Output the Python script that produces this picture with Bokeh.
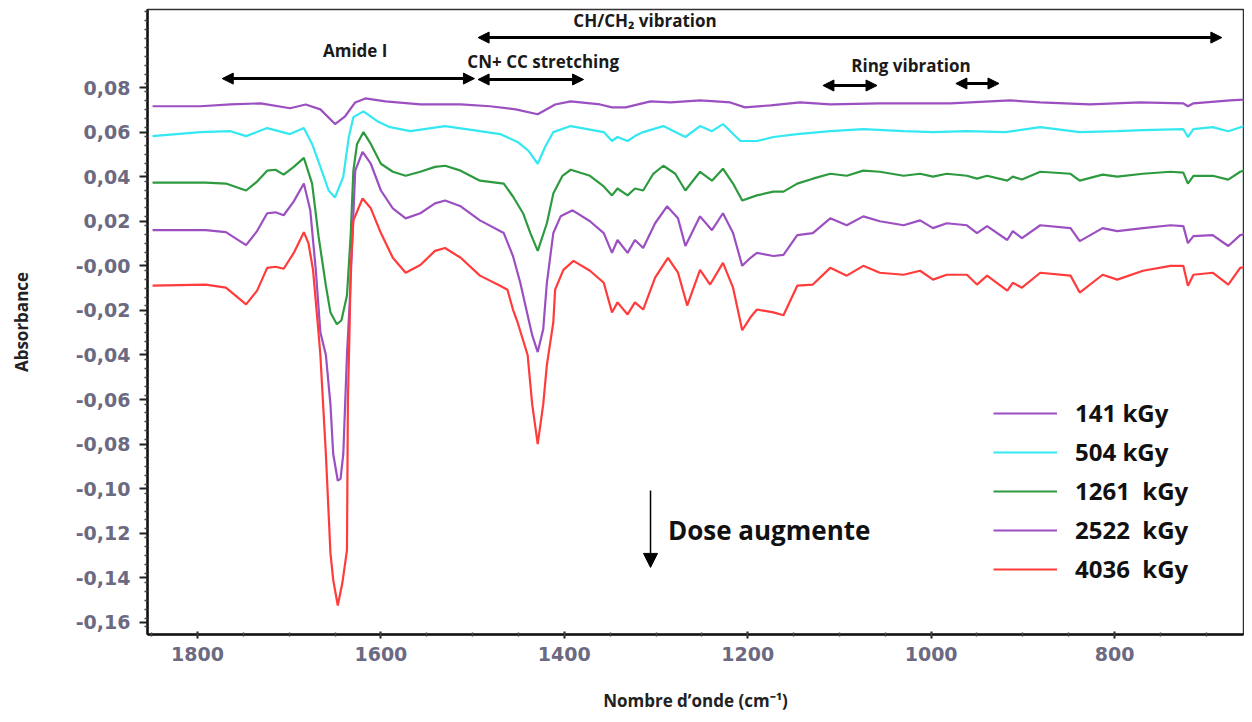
from bokeh.plotting import figure
from bokeh.models import (Range1d, FixedTicker, CustomJSTickFormatter, Arrow, NormalHead,
                          Legend, LegendItem)
from bokeh.core.properties import value
from bokeh.embed import file_html
from bokeh.resources import INLINE
import numpy as np

# ---------------- data ----------------
WN_141 = [1849, 1797, 1764, 1731, 1699, 1682, 1666, 1650, 1639, 1628, 1617, 1595, 1557, 1513, 1481,
          1453, 1429, 1410, 1393, 1361, 1348, 1333, 1306, 1284, 1268, 1252, 1235, 1219, 1203, 1175,
          1143, 1110, 1056, 979, 914, 881, 827, 772, 725, 720, 714, 674, 652]
ABS_141 = [0.0716, 0.0716, 0.0724, 0.0729, 0.0707, 0.0724, 0.0702, 0.0636, 0.0671, 0.0733, 0.0751,
           0.0738, 0.0724, 0.0724, 0.0716, 0.0702, 0.0680, 0.0724, 0.0738, 0.0724, 0.0711, 0.0711,
           0.0738, 0.0733, 0.0738, 0.0742, 0.0738, 0.0733, 0.0711, 0.0720, 0.0733, 0.0724, 0.0729,
           0.0729, 0.0742, 0.0733, 0.0724, 0.0733, 0.0729, 0.0716, 0.0729, 0.0742, 0.0747]

WN_504 = [1849, 1797, 1764, 1747, 1724, 1699, 1684, 1675, 1666, 1657, 1650, 1641, 1635, 1630, 1619,
          1604, 1590, 1568, 1530, 1492, 1470, 1451, 1439, 1429, 1421, 1412, 1393, 1357, 1348, 1342,
          1331, 1323, 1314, 1292, 1268, 1252, 1239, 1227, 1208, 1190, 1172, 1146, 1110, 1074, 1030,
          998, 961, 919, 881, 838, 797, 769, 725, 720, 714, 693, 676, 652]
ABS_504 = [0.0582, 0.0600, 0.0604, 0.0582, 0.0618, 0.0591, 0.0618, 0.0547, 0.0444, 0.0338, 0.0307,
           0.0400, 0.0578, 0.0667, 0.0693, 0.0649, 0.0622, 0.0604, 0.0627, 0.0604, 0.0591, 0.0556,
           0.0516, 0.0458, 0.0533, 0.0600, 0.0627, 0.0600, 0.0560, 0.0578, 0.0560, 0.0582, 0.0600,
           0.0627, 0.0578, 0.0627, 0.0604, 0.0636, 0.0560, 0.0560, 0.0578, 0.0591, 0.0604, 0.0613,
           0.0604, 0.0600, 0.0604, 0.0600, 0.0622, 0.0600, 0.0604, 0.0609, 0.0613, 0.0578, 0.0613,
           0.0622, 0.0604, 0.0636]

WN_1261 = [1849, 1791, 1769, 1747, 1735, 1724, 1715, 1706, 1695, 1684, 1675, 1668, 1660, 1655, 1648,
           1643, 1637, 1633, 1630, 1626, 1619, 1611, 1600, 1587, 1573, 1557, 1541, 1530, 1513, 1492,
           1466, 1456, 1445, 1437, 1429, 1419, 1412, 1402, 1393, 1372, 1357, 1348, 1342, 1331, 1323,
           1314, 1303, 1292, 1279, 1268, 1252, 1239, 1227, 1216, 1206, 1190, 1172, 1161, 1146, 1129,
           1110, 1092, 1074, 1056, 1030, 1012, 998, 983, 961, 950, 939, 917, 911, 901, 881, 848, 838,
           813, 797, 769, 739, 725, 720, 714, 693, 676, 663, 652]
ABS_1261 = [0.0373, 0.0373, 0.0369, 0.0338, 0.0378, 0.0427, 0.0431, 0.0409, 0.0444, 0.0484, 0.0369,
            0.0133, -0.0089, -0.0209, -0.0262, -0.0244, -0.0133, 0.0133, 0.0427, 0.0547, 0.0600,
            0.0547, 0.0458, 0.0422, 0.0404, 0.0422, 0.0444, 0.0449, 0.0427, 0.0382, 0.0369, 0.0311,
            0.0236, 0.0147, 0.0067, 0.0191, 0.0324, 0.0404, 0.0431, 0.0404, 0.0356, 0.0316, 0.0347,
            0.0316, 0.0347, 0.0338, 0.0413, 0.0449, 0.0413, 0.0338, 0.0422, 0.0382, 0.0436, 0.0369,
            0.0293, 0.0316, 0.0333, 0.0333, 0.0369, 0.0391, 0.0413, 0.0404, 0.0427, 0.0422, 0.0404,
            0.0413, 0.0400, 0.0413, 0.0404, 0.0391, 0.0404, 0.0382, 0.0400, 0.0387, 0.0422, 0.0413,
            0.0382, 0.0409, 0.0400, 0.0413, 0.0422, 0.0418, 0.0369, 0.0404, 0.0404, 0.0387, 0.0422,
            0.0436]

WN_2522 = [1849, 1791, 1769, 1747, 1735, 1724, 1715, 1706, 1695, 1684, 1677, 1671, 1666, 1660, 1655,
           1652, 1647, 1644, 1641, 1637, 1634, 1631, 1628, 1620, 1611, 1600, 1587, 1573, 1557, 1541,
           1530, 1513, 1492, 1466, 1456, 1448, 1440, 1435, 1429, 1423, 1419, 1412, 1404, 1391, 1372,
           1357, 1348, 1342, 1331, 1323, 1314, 1301, 1288, 1276, 1268, 1252, 1239, 1227, 1216, 1206,
           1197, 1190, 1172, 1161, 1146, 1129, 1110, 1092, 1074, 1056, 1030, 1012, 998, 983, 961,
           950, 939, 917, 911, 901, 881, 848, 838, 813, 797, 769, 739, 725, 720, 714, 693, 676, 663,
           652]
ABS_2522 = [0.0160, 0.0160, 0.0151, 0.0093, 0.0156, 0.0236, 0.0240, 0.0227, 0.0289, 0.0369, 0.0249,
            -0.0018, -0.0298, -0.0400, -0.0622, -0.0844, -0.0964, -0.0956, -0.0844, -0.0400, -0.0164,
            0.0133, 0.0427, 0.0511, 0.0458, 0.0338, 0.0258, 0.0213, 0.0236, 0.0280, 0.0293, 0.0267,
            0.0204, 0.0147, 0.0044, -0.0076, -0.0222, -0.0311, -0.0387, -0.0284, -0.0076, 0.0147,
            0.0222, 0.0249, 0.0200, 0.0147, 0.0058, 0.0116, 0.0058, 0.0116, 0.0080, 0.0191, 0.0267,
            0.0213, 0.0089, 0.0222, 0.0160, 0.0236, 0.0147, 0.0000, 0.0036, 0.0058, 0.0044, 0.0049,
            0.0138, 0.0147, 0.0213, 0.0182, 0.0222, 0.0200, 0.0182, 0.0204, 0.0169, 0.0191, 0.0182,
            0.0147, 0.0178, 0.0116, 0.0156, 0.0124, 0.0182, 0.0169, 0.0111, 0.0169, 0.0156, 0.0169,
            0.0182, 0.0178, 0.0102, 0.0133, 0.0138, 0.0089, 0.0138, 0.0147]

WN_4036 = [1849, 1791, 1769, 1747, 1735, 1724, 1715, 1706, 1695, 1684, 1679, 1674, 1669, 1666, 1660,
           1655, 1652, 1647, 1642, 1637, 1636, 1634, 1633, 1630, 1620, 1611, 1600, 1587, 1573, 1557,
           1541, 1530, 1513, 1492, 1470, 1462, 1456, 1451, 1440, 1435, 1429, 1423, 1419, 1412, 1410,
           1401, 1390, 1372, 1357, 1348, 1342, 1331, 1323, 1314, 1301, 1287, 1276, 1266, 1252, 1241,
           1227, 1216, 1206, 1197, 1190, 1172, 1161, 1146, 1129, 1110, 1092, 1074, 1056, 1030, 1012,
           998, 983, 961, 950, 939, 917, 911, 901, 881, 848, 838, 813, 797, 769, 739, 725, 720, 714,
           693, 676, 663, 652]
ABS_4036 = [-0.0089, -0.0084, -0.0098, -0.0173, -0.0111, -0.0009, -0.0004, -0.0013, 0.0058, 0.0151,
            0.0102, -0.0018, -0.0253, -0.0400, -0.0844, -0.1289, -0.1409, -0.1524, -0.1422, -0.1276,
            -0.0609, -0.0253, -0.0018, 0.0204, 0.0302, 0.0258, 0.0147, 0.0036, -0.0031, 0.0004, 0.0067,
            0.0080, 0.0036, -0.0044, -0.0089, -0.0107, -0.0196, -0.0253, -0.0400, -0.0622, -0.0800,
            -0.0622, -0.0444, -0.0253, -0.0107, -0.0018, 0.0022, -0.0022, -0.0076, -0.0209, -0.0164,
            -0.0218, -0.0164, -0.0196, -0.0053, 0.0036, -0.0031, -0.0178, -0.0018, -0.0084, 0.0013,
            -0.0098, -0.0289, -0.0231, -0.0196, -0.0209, -0.0222, -0.0089, -0.0084, -0.0009, -0.0044,
            0.0000, -0.0031, -0.0040, -0.0022, -0.0062, -0.0040, -0.0040, -0.0084, -0.0044, -0.0111,
            -0.0076, -0.0098, -0.0031, -0.0044, -0.0120, -0.0040, -0.0062, -0.0022, 0.0000, 0.0000,
            -0.0089, -0.0040, -0.0031, -0.0084, -0.0009, 0.0000]

SERIES = ["141 kGy", "504 kGy", "1261  kGy", "2522  kGy", "4036  kGy"]
X_TICKS = [800, 1000, 1200, 1400, 1600, 1800]
Y_TICKS = [-0.16, -0.14, -0.12, -0.10, -0.08, -0.06, -0.04, -0.02, 0.00, 0.02, 0.04, 0.06, 0.08]

COLORS = ["#9b4fc0", "#33e8f0", "#2e9a40", "#9b4fc0", "#ff3b3b"]

# ---------------- figure ----------------
p = figure(width=1244, height=714, output_backend="svg", toolbar_location=None,
           x_range=Range1d(1854.5, 659.4), y_range=Range1d(-0.1654, 0.115),
           min_border_left=147, min_border_right=1, min_border_top=9, min_border_bottom=80,
           background_fill_color="white", border_fill_color="white")
p.xgrid.visible = False
p.ygrid.visible = False
p.outline_line_color = "#333333"
p.outline_line_width = 1.5

data = [(WN_141, ABS_141), (WN_504, ABS_504), (WN_1261, ABS_1261), (WN_2522, ABS_2522), (WN_4036, ABS_4036)]
renderers = []
for (wn, ab), c in zip(data, COLORS):
    r = p.line(wn, ab, line_color=c, line_width=2.2)
    renderers.append(r)

legend = Legend(items=[LegendItem(label=s, renderers=[r]) for s, r in zip(SERIES, renderers)],
                location=(846, 49), padding=0, margin=0, spacing=6,
                glyph_width=64, glyph_height=28, label_height=28, label_standoff=18,
                label_text_font="Open Sans", label_text_font_style="bold",
                label_text_font_size="24px", label_text_color="#111111",
                border_line_alpha=0, background_fill_alpha=0)
p.add_layout(legend)

# axes
tick_font = "DejaVu Sans"
p.xaxis.ticker = FixedTicker(ticks=X_TICKS, minor_ticks=list(range(650, 1901, 50)))
p.yaxis.ticker = FixedTicker(ticks=Y_TICKS, minor_ticks=list(np.round(np.arange(-0.17, 0.121, 0.004), 4)))
p.yaxis.formatter = CustomJSTickFormatter(code="""
    const s = Math.abs(tick).toFixed(2).replace('.', ',');
    return (tick < 0.005 ? '-' : '') + s;
""")
for ax in (p.xaxis[0], p.yaxis[0]):
    ax.axis_line_color = "#111111"
    ax.axis_line_width = 2.5
    ax.major_tick_line_color = "#222222"
    ax.major_tick_line_width = 2
    ax.minor_tick_line_color = "#444444"
    ax.minor_tick_line_width = 1.5
    ax.major_label_text_font = tick_font
    ax.major_label_text_font_style = "bold"
    ax.major_label_text_font_size = "19px"
    ax.major_label_text_color = "#6b6a82"
    ax.axis_label_text_font = "Open Sans"
    ax.axis_label_text_font_style = "bold"
    ax.axis_label_text_font_size = "17px"
    ax.axis_label_text_color = "#222222"

p.yaxis.major_tick_out = 8
p.yaxis.major_tick_in = 0
p.yaxis.minor_tick_out = 3
p.yaxis.minor_tick_in = 0
p.yaxis.major_label_standoff = 9
p.yaxis.axis_label = "Absorbance"
p.yaxis.axis_label_standoff = 40

p.xaxis.major_tick_out = 4
p.xaxis.major_tick_in = 3
p.xaxis.minor_tick_out = 2
p.xaxis.minor_tick_in = 2
p.xaxis.major_label_standoff = 8
p.xaxis.axis_label = "Nombre d\u2019onde (cm\u207b\u00b9)"
p.xaxis.axis_label_standoff = 25

# ---------------- annotations ----------------
def dbl_arrow(x0, x1, y, size=11, w=3):
    p.add_layout(Arrow(start=NormalHead(size=size, fill_color="black", line_color="black"),
                       end=NormalHead(size=size, fill_color="black", line_color="black"),
                       x_start=x0, y_start=y, x_end=x1, y_end=y,
                       line_width=w, line_color="black"))

dbl_arrow(1494, 683, 0.1024)     # CH/CH2 vibration
dbl_arrow(1773, 1498, 0.0840)    # Amide I
dbl_arrow(1494, 1379, 0.0836)    # CN + CC stretching
dbl_arrow(1118, 1059, 0.0809)    # ring vibration 1
dbl_arrow(973, 926, 0.0818)      # ring vibration 2

p.add_layout(Arrow(end=NormalHead(size=14, fill_color="black", line_color="black"),
                   x_start=1306, y_start=-0.1008, x_end=1306, y_end=-0.1353,
                   line_width=1.5, line_color="black"))

ann_font = value("Open Sans")
p.text(x=[1628, 1312, 1423, 1022], y=[0.0966, 0.1101, 0.0917, 0.0899],
       text=["Amide I", "CH/CH\u2082 vibration", "CN+ CC stretching", "Ring vibration"],
       text_font=ann_font, text_font_style="bold", text_font_size="17px",
       text_align="center", text_baseline="middle", text_color="#1a1a1a")
p.text(x=[1287], y=[-0.1187], text=["Dose augmente"],
       text_font=ann_font, text_font_style="bold", text_font_size="26px",
       text_align="left", text_baseline="middle", text_color="#111111")

open("out.html", "w").write(file_html(p, INLINE))
